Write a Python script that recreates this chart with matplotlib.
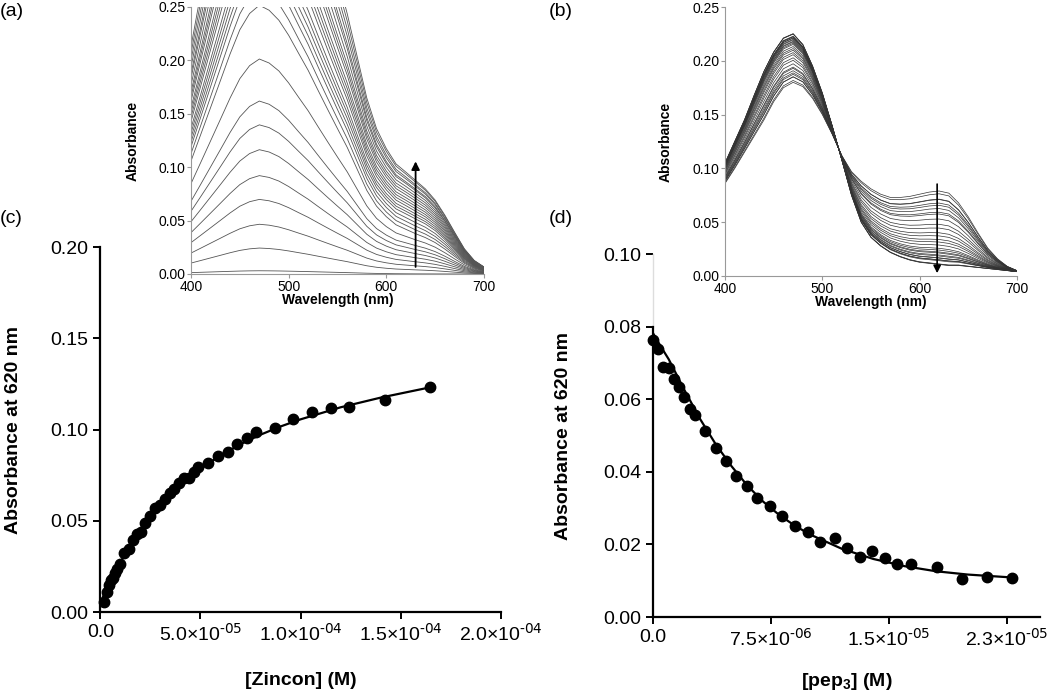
import numpy as np
import matplotlib.pyplot as plt

plt.rcParams['font.family'] = ['Liberation Sans', 'DejaVu Sans']
plt.rcParams['mathtext.default'] = 'regular'

# (c) Zincon titration, absorbance at 620 nm
zincon_conc = [1.7e-6, 3.3e-6, 4.3e-6, 5.2e-6, 6.3e-6, 7.5e-6, 8.3e-6, 1.0e-5, 1.2e-5, 1.42e-5,
               1.63e-5, 1.83e-5, 2.03e-5, 2.25e-5, 2.5e-5, 2.72e-5, 2.97e-5, 3.22e-5, 3.47e-5, 3.7e-5,
               3.95e-5, 4.17e-5, 4.45e-5, 4.67e-5, 4.9e-5, 5.38e-5, 5.87e-5, 6.37e-5, 6.82e-5, 7.3e-5,
               7.78e-5, 8.72e-5, 9.63e-5, 1.057e-4, 1.15e-4, 1.242e-4, 1.422e-4, 1.645e-4]
zincon_abs = [0.0055, 0.0111, 0.0146, 0.0175, 0.0188, 0.0212, 0.0234, 0.0265, 0.0321, 0.0347,
              0.0394, 0.0425, 0.0438, 0.0489, 0.0526, 0.0571, 0.0586, 0.0620, 0.0653, 0.0675,
              0.0708, 0.0735, 0.0735, 0.0766, 0.0794, 0.0818, 0.0854, 0.0876, 0.0922, 0.0954,
              0.0985, 0.1009, 0.1058, 0.1099, 0.1117, 0.1122, 0.1162, 0.1234]
zincon_fit_x = [0, 1e-6, 2.5e-6, 5e-6, 7.5e-6, 1e-5, 1.5e-5, 2e-5, 3e-5, 4e-5, 5e-5, 6e-5, 7e-5,
                8e-5, 9e-5, 1e-4, 1.2e-4, 1.4e-4, 1.65e-4]
zincon_fit_y = [0.004, 0.0075, 0.012, 0.0185, 0.0232, 0.0275, 0.0365, 0.0445, 0.0585, 0.0695,
                0.0785, 0.0858, 0.092, 0.0972, 0.1017, 0.1056, 0.1122, 0.1175, 0.1232]

# (d) pep3 titration, absorbance at 620 nm
pep_conc = [0, 3.2e-7, 6.4e-7, 1.0e-6, 1.34e-6, 1.66e-6, 2.0e-6, 2.34e-6, 2.66e-6, 3.3e-6,
            3.98e-6, 4.62e-6, 5.28e-6, 5.96e-6, 6.6e-6, 7.45e-6, 8.23e-6, 9.04e-6, 9.85e-6, 1.064e-5,
            1.155e-5, 1.234e-5, 1.315e-5, 1.394e-5, 1.474e-5, 1.553e-5, 1.643e-5, 1.804e-5, 1.964e-5,
            2.123e-5, 2.283e-5]
pep_abs = [0.0763, 0.0738, 0.0690, 0.0687, 0.0655, 0.0635, 0.0606, 0.0573, 0.0557, 0.0512,
           0.0465, 0.0431, 0.0389, 0.0361, 0.0329, 0.0306, 0.0279, 0.0250, 0.0234, 0.0208,
           0.0217, 0.0190, 0.0165, 0.0181, 0.0162, 0.0147, 0.0146, 0.0139, 0.0105,
           0.0110, 0.0108]
pep_fit_x = [0, 5e-7, 1e-6, 2e-6, 3e-6, 4e-6, 5e-6, 6e-6, 7e-6, 8e-6, 9e-6, 1e-5, 1.2e-5,
             1.4e-5, 1.6e-5, 1.8e-5, 2e-5, 2.28e-5]
pep_fit_y = [0.0782, 0.0745, 0.0710, 0.0625, 0.0545, 0.0475, 0.0415, 0.0362, 0.0318, 0.0282,
             0.0252, 0.0227, 0.0188, 0.0160, 0.0140, 0.0126, 0.0117, 0.0109]

# (a) spectra: free zincon band and complex band (normalised), per-curve amplitudes
wl = list(range(400, 701, 10))
band_470 = [0.42, 0.52, 0.62, 0.72, 0.82, 0.91, 0.97, 1.00, 0.98, 0.94, 0.88, 0.81, 0.74, 0.66, 0.58,
            0.50, 0.42, 0.33, 0.24, 0.17, 0.12, 0.08, 0.055, 0.035, 0.025, 0.018, 0.012, 0.008,
            0.005, 0.003, 0.002]
band_620 = [0.04, 0.04, 0.045, 0.05, 0.06, 0.07, 0.08, 0.09, 0.10, 0.12, 0.15, 0.18, 0.22, 0.27, 0.33,
            0.40, 0.48, 0.56, 0.64, 0.73, 0.82, 0.90, 0.97, 1.00, 0.96, 0.86, 0.70, 0.50, 0.30,
            0.16, 0.08]
amp_470 = [0.003, 0.024, 0.046, 0.069, 0.091, 0.115, 0.138, 0.160, 0.199, 0.249,
           0.265, 0.28, 0.29, 0.30, 0.31, 0.32, 0.335, 0.345, 0.355, 0.365,
           0.38, 0.39, 0.40, 0.415, 0.43, 0.44, 0.455, 0.47, 0.485, 0.50]
amp_620 = [0.0, 0.003, 0.006, 0.009, 0.012, 0.015, 0.018, 0.021, 0.025, 0.029,
           0.032, 0.035, 0.038, 0.041, 0.043, 0.045, 0.047, 0.049, 0.051, 0.053,
           0.055, 0.057, 0.059, 0.061, 0.063, 0.064, 0.066, 0.067, 0.069, 0.070]

# (b) first and last spectra of the pep3 titration
spec_first = [0.086, 0.10, 0.115, 0.13, 0.145, 0.162, 0.175, 0.180, 0.176, 0.165, 0.150, 0.132,
              0.112, 0.097, 0.088, 0.081, 0.076, 0.073, 0.073, 0.074, 0.076, 0.078, 0.079, 0.077,
              0.068, 0.055, 0.040, 0.026, 0.016, 0.009, 0.005]
spec_last = [0.105, 0.125, 0.145, 0.168, 0.19, 0.208, 0.221, 0.225, 0.215, 0.195, 0.170, 0.140,
             0.108, 0.075, 0.050, 0.036, 0.028, 0.022, 0.018, 0.015, 0.013, 0.012, 0.011, 0.010,
             0.010, 0.009, 0.008, 0.007, 0.006, 0.005, 0.004]

fig = plt.figure(figsize=(10.5, 6.95), dpi=100)

def main_style(ax):
    for s in ['top', 'right']:
        ax.spines[s].set_visible(False)
    for s in ['left', 'bottom']:
        ax.spines[s].set_linewidth(1.6)
    ax.tick_params(direction='out', width=1.4, length=5, labelsize=14)

def inset_style(ax):
    for s in ['top', 'right']:
        ax.spines[s].set_visible(False)
    for s in ['left', 'bottom']:
        ax.spines[s].set_color('#999999')
        ax.spines[s].set_linewidth(0.8)
    ax.patch.set_alpha(0)
    ax.tick_params(direction='out', length=3, width=0.8, color='#999999', labelsize=10, pad=1)
    ax.set_xlim(400, 700)
    ax.set_ylim(0, 0.25)
    ax.set_xticks([400, 500, 600, 700])
    ax.set_yticks([0, 0.05, 0.10, 0.15, 0.20, 0.25])
    ax.set_yticklabels(['%.2f' % v for v in [0, 0.05, 0.10, 0.15, 0.20, 0.25]])
    ax.set_ylabel('Absorbance', fontsize=10, fontweight='bold')
    ax.set_xlabel('Wavelength (nm)', fontsize=10, fontweight='bold')

def sci(mant, expo):
    return mant + '×10$^{\\text{' + expo + '}}$'

# panel (c)
axc = fig.add_axes([0.0957, 0.1194, 0.381, 0.525])
main_style(axc)
axc.plot(zincon_fit_x, zincon_fit_y, color='black', lw=1.6, zorder=2)
axc.plot(zincon_conc, zincon_abs, 'o', color='black', ms=7.5, zorder=3, clip_on=False)
axc.set_xlim(0, 2.0e-4)
axc.set_ylim(0, 0.20)
axc.set_xticks([0, 5e-5, 1e-4, 1.5e-4, 2e-4])
axc.set_xticklabels(['0.0', sci('5.0', '-05'), sci('1.0', '-04'), sci('1.5', '-04'), sci('2.0', '-04')])
axc.set_yticks([0, 0.05, 0.10, 0.15, 0.20])
axc.set_yticklabels(['0.00', '0.05', '0.10', '0.15', '0.20'])
axc.set_xlabel('[Zincon] (M)', fontsize=14, fontweight='bold')
axc.set_ylabel('Absorbance at 620 nm', fontsize=14, fontweight='bold')
axc.xaxis.set_label_coords(0.5, -0.164)
axc.yaxis.set_label_coords(-0.196, 0.5)

# panel (d)
axd = fig.add_axes([0.6219, 0.1122, 0.3686, 0.5223])
main_style(axd)
axd.plot(pep_fit_x, pep_fit_y, color='black', lw=1.6, zorder=2)
axd.plot(pep_conc, pep_abs, 'o', color='black', ms=7.5, zorder=3, clip_on=False)
axd.set_xlim(0, 2.46e-5)
axd.set_ylim(0, 0.10)
axd.spines['left'].set_bounds(0, 0.08)
axd.plot([0, 0], [0.08, 0.10], color='#dddddd', lw=1.0, clip_on=False)
axd.set_xticks([0, 7.5e-6, 1.5e-5, 2.25e-5])
axd.set_xticklabels(['0.0', sci('7.5', '-06'), sci('1.5', '-05'), sci('2.3', '-05')])
axd.set_yticks([0, 0.02, 0.04, 0.06, 0.08, 0.10])
axd.set_yticklabels(['0.00', '0.02', '0.04', '0.06', '0.08', '0.10'])
axd.set_xlabel('[pep$_3$] (M)', fontsize=14, fontweight='bold')
axd.set_ylabel('Absorbance at 620 nm', fontsize=14, fontweight='bold')
axd.xaxis.set_label_coords(0.5, -0.148)
axd.yaxis.set_label_coords(-0.209, 0.5)

# inset (a)
axa = fig.add_axes([0.1819, 0.6058, 0.279, 0.3842])
inset_style(axa)
z = np.array(band_470)
c = np.array(band_620)
for a, b in zip(amp_470, amp_620):
    axa.plot(wl, a * z + b * c, color='#555555', lw=0.6)
axa.annotate('', xy=(630, 0.108), xytext=(630, 0.004),
             arrowprops=dict(arrowstyle='-|>', color='black', lw=1.3, mutation_scale=12))
axa.xaxis.set_label_coords(0.5, -0.071)
axa.yaxis.set_label_coords(-0.174, 0.5)

# inset (b)
axb = fig.add_axes([0.6905, 0.6029, 0.278, 0.387])
inset_style(axb)
f0 = np.array(spec_first)
f1 = np.array(spec_last)
for y in pep_abs:
    frac = (pep_abs[0] - y) / (pep_abs[0] - pep_abs[-1])
    axb.plot(wl, f0 + frac * (f1 - f0), color='#333333', lw=0.5)
axb.annotate('', xy=(618, 0.0), xytext=(618, 0.088),
             arrowprops=dict(arrowstyle='-|>', color='black', lw=1.2, mutation_scale=11))
axb.xaxis.set_label_coords(0.5, -0.071)
axb.yaxis.set_label_coords(-0.178, 0.5)

# panel letters
for lbl, x, y in [('(a)', 0.0, 0.983), ('(b)', 0.523, 0.983), ('(c)', 0.0, 0.686), ('(d)', 0.523, 0.686)]:
    fig.text(x, y, lbl, fontsize=14, va='center', ha='left')

fig.savefig('out.png', dpi=100)
